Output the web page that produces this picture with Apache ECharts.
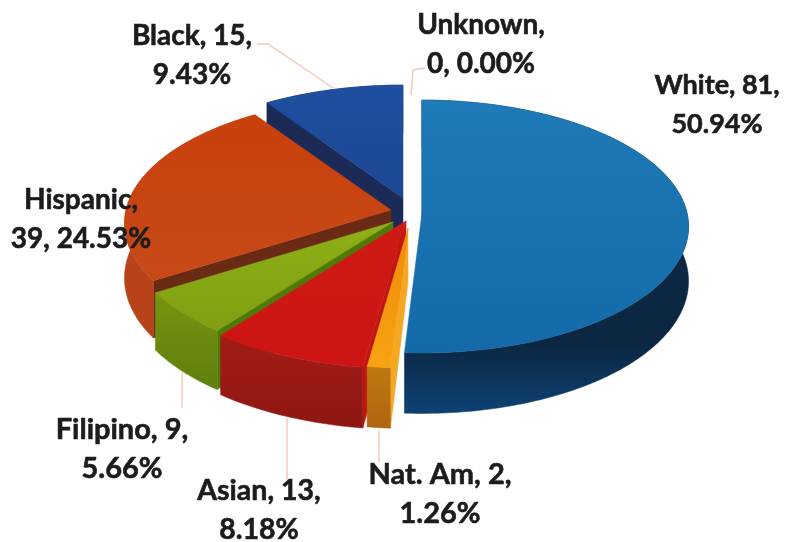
<!DOCTYPE html>
<html><head><meta charset="utf-8">
<style>html,body{margin:0;padding:0;background:#fff}#c{width:789px;height:542px}</style>
<script src="https://cdn.jsdelivr.net/npm/echarts@6/dist/echarts.min.js"></script>
</head><body><div id="c"></div>
<script>
const categories = ['White','Nat. Am','Asian','Filipino','Hispanic','Black','Unknown'];
const counts = [81,2,13,9,39,15,0];

// Styling and layout, per category
const topColors = [['#1f7ab8','#146aa8'],['#f08a08','#f7a312'],['#cf1a16','#cc1512'],['#8fb016','#7f9f12'],['#c9400c','#c64a18'],['#1f4fa0','#1c4793'],['#888','#888']];
const wallColors = [['#0b2742','#0e4274'],['#bd7a10','#b0640f'],['#a31c16','#8d1712'],['#76950f','#5f7f0d'],['#b8431a','#b8431a'],['#1a2a55','#1a2a55'],['#888','#888']];
const wallStop = [0.78,0,0,0,0,0,0];
const cutColors = ['#0d2a45','#f5a623','#c01512','#4f7a0a','#6b2a14','#1b2a56','#888'];
const apexes = [[422,213],[408,228],[406,221],[393,222],[391,210],[403,198],[410,200]];
const radial = [1,1,1.05,1,1,1,1];
const zRank = {White:6,'Nat. Am':5,Asian:4,Filipino:3,Hispanic:2,Black:1,Unknown:0};
const labelLayout = {
  White:{x:717,y:86,br:1,size:27}, 'Nat. Am':{x:440,y:475,br:1,size:29}, Asian:{x:259,y:491,br:1,size:28.5},
  Filipino:{x:122,y:430,br:1,size:29}, Hispanic:{x:81,y:200,br:0,size:28}, Black:{x:192,y:36,br:1,size:28}, Unknown:{x:481,y:25,br:0,size:28}
};
const leaders = {
  White:[], 'Nat. Am':[[379,431],[379,462]], Asian:[[287,418],[287,480]],
  Filipino:[[182,372],[182,408]], Hispanic:[], Black:[[257,44],[268,44],[333,88]], Unknown:[[425,68],[413,70],[411,95]]
};
const RX = 265, RY = 125, PERSP = 0.107, DEPTH = 54;

const total = counts.reduce((a,b)=>a+b,0);
function project(ax,ay,deg,r){
  const t = deg*Math.PI/180, u = Math.sin(t)*r, v = Math.cos(t)*r, s = 1/(1+PERSP*v);
  return {x:ax+u*RX*s, y:ay-v*RY*s, d:DEPTH*s};
}
function grad(c,stop){
  return new echarts.graphic.LinearGradient(0,0,0,1,[{offset:stop||0,color:c[0]},{offset:1,color:c[1]}]);
}
function poly(points,fill,z2){
  return {type:'polygon',z2:z2,shape:{points:points},style:{fill:fill,stroke:fill,lineWidth:0.5}};
}

function renderItem(params, api){
  const i = params.dataIndex, name = categories[i], val = api.value(0);
  const before = counts.slice(0,i).reduce((a,b)=>a+b,0);
  const a0 = before/total*360, a1 = (before+val)/total*360;
  const [ax,ay] = apexes[i], rank = zRank[name]*10;
  const children = [];
  if(val>0){
    const arc = [];
    for(let a=a0;;a+=1){ const q=Math.min(a,a1); arc.push(project(ax,ay,q,radial[i])); if(a>=a1)break; }
    const c = project(ax,ay,0,0);
    const first = arc[0];
    const down = p=>[p.x,p.y+p.d], flat = p=>[p.x,p.y];
    children.push(poly([flat(c),flat(first),down(first),down(c)],cutColors[i],rank+1));
    children.push(poly(arc.map(flat).concat(arc.slice().reverse().map(down)),grad(wallColors[i],wallStop[i]),rank+2));
    children.push(poly([flat(c)].concat(arc.map(flat)),grad(topColors[i]),rank+3));
  }
  const pts = leaders[name];
  if(pts.length) children.push({type:'polyline',z2:200,shape:{points:pts},style:{fill:'none',stroke:'#f0c8b8',lineWidth:1.5}});
  const L = labelLayout[name], pct = (val/total*100).toFixed(2)+'%';
  const text = L.br ? name+', '+val+',\n'+pct : name+',\n'+val+', '+pct;
  children.push({type:'text',z2:300,style:{text:text,x:L.x,y:L.y-20,align:'center',verticalAlign:'top',
    fill:'#1c1c1c',stroke:'#1c1c1c',lineWidth:0.6,font:'bold '+L.size+'px Lato, Carlito, sans-serif',lineHeight:39}});
  return {type:'group',children:children};
}

const chart = echarts.init(document.getElementById('c'),null,{renderer:'canvas'});
chart.setOption({
  animation:false, backgroundColor:'#fff',
  series:[{type:'custom',coordinateSystem:'none',silent:true,clip:false,
    data:counts.map(v=>[v]),renderItem:renderItem}]
});
</script></body></html>
